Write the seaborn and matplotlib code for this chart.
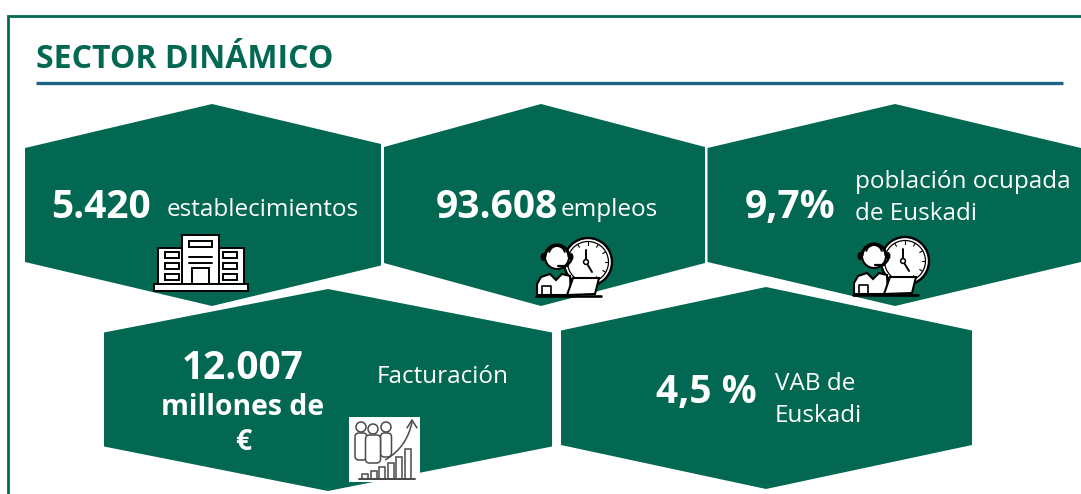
import matplotlib
matplotlib.use('Agg')
import matplotlib.pyplot as plt
from matplotlib.patches import Polygon, Rectangle, Circle, Wedge, Ellipse, PathPatch, FancyBboxPatch
from matplotlib.path import Path
import numpy as np
import seaborn as sns

GREEN = '#036851'
BLUE = '#1F6487'

title = 'SECTOR DINÁMICO'
big_numbers = ['5.420', '93.608', '9,7%', '12.007', '4,5 %']
unit_lines = ['millones de', '€']
captions = [['establecimientos'], ['empleos'], ['población ocupada', 'de Euskadi'], ['Facturación'], ['VAB de', 'Euskadi']]

sns.set_style('white')
plt.rcParams['font.family'] = ['Open Sans', 'DejaVu Sans']

fig = plt.figure(figsize=(10.81, 4.94), dpi=100)
ax = fig.add_axes([0, 0, 1, 1])
ax.set_xlim(0, 1081)
ax.set_ylim(494, 0)
ax.axis('off')

# marco y titulo
ax.plot([8, 8, 1081], [494, 16.5, 16.5], color=GREEN, lw=2, solid_joinstyle='miter', solid_capstyle='butt')
ax.plot([36, 1063], [83.3, 83.3], color=BLUE, lw=2.4, solid_capstyle='butt')
ax.text(36, 68, title, color=GREEN, fontsize=23, fontweight='bold', va='baseline', ha='left')


def hexagon(left, right, apex, top, shoulder_l, shoulder_r, low_l, low_r, bottom):
    pts = [(left, shoulder_l), (apex, top), (right, shoulder_r),
           (right, low_r), (apex, bottom), (left, low_l)]
    ax.add_patch(Polygon(pts, closed=True, fc=GREEN, ec='none', zorder=1))


hexagon(25, 381, 212, 104, 148, 144, 262, 265.5, 306)
hexagon(384, 705, 541, 104, 147, 147, 263, 263, 306)
hexagon(707.5, 1081, 895, 104, 148, 148, 262, 262, 306)
hexagon(104, 552, 328, 289, 332.5, 332.5, 446.5, 446.5, 491)
hexagon(561, 972, 766, 287, 330.5, 330.5, 445, 445, 489)

# textos
num_pos = [(101, 218), (496.5, 218), (790, 218), (243, 379), (706, 403)]
for (x, y), s in zip(num_pos, big_numbers):
    ax.text(x, y, s, color='white', fontsize=28, fontweight='bold', ha='center', va='baseline', zorder=3)
ax.text(243, 415, unit_lines[0], color='white', fontsize=20.4, fontweight='bold', ha='center', va='baseline', zorder=3)
ax.text(243, 450, unit_lines[1], color='white', fontsize=20.4, fontweight='bold', ha='center', va='baseline', zorder=3)

cap_x = [167, 561, 855, 377, 775]
cap_y = [[216], [216], [188, 220], [383], [390, 421.5]]
for x, ys, lines in zip(cap_x, cap_y, captions):
    for y, s in zip(ys, lines):
        ax.text(x, y, s, color='white', fontsize=17.5, ha='left', va='baseline', zorder=3)


def building(x0, y0):
    # edificio, origen arriba izquierda del bloque central
    k = dict(fc='white', ec='black', lw=1.4, zorder=4)
    ax.add_patch(Rectangle((x0 - 24, y0 + 13), 86, 36, **k))
    ax.add_patch(Rectangle((x0, y0), 37, 49, **k))
    ax.add_patch(Rectangle((x0 - 28, y0 + 49), 94, 7, **k))
    ax.add_patch(Rectangle((x0 + 7, y0 + 6), 23, 6, **k))
    ax.plot([x0 + 7, x0 + 30], [y0 + 22, y0 + 22], color='black', lw=1.4, zorder=5)
    ax.plot([x0 + 7, x0 + 30], [y0 + 28, y0 + 28], color='black', lw=1.4, zorder=5)
    ax.add_patch(Rectangle((x0 + 10, y0 + 33), 17, 16, **k))
    for dy in (17, 28, 39):
        ax.add_patch(Rectangle((x0 - 17, y0 + dy), 14, 6, **k))
        ax.add_patch(Rectangle((x0 + 41, y0 + dy), 14, 6, **k))
    for dx in (16, 19, 22):
        ax.plot([x0 + dx, x0 + dx], [y0 - 1, y0 - 0.2], color='black', lw=0.8, zorder=5)


def agent(cx, cy):
    # reloj y persona con portatil; cx, cy = centro de las agujas
    ax.add_patch(Circle((cx + 2, cy), 24, fc='white', ec='black', lw=1.7, zorder=4))
    ax.add_patch(Circle((cx + 2, cy), 20.5, fc='white', ec='black', lw=0.9, zorder=4))
    ax.plot([cx, cx, cx + 6], [cy - 12, cy, cy + 10], color='black', lw=1.4, zorder=5)
    ax.add_patch(Circle((cx, cy), 2.4, fc='white', ec='black', lw=1.1, zorder=5))
    for a in np.deg2rad([30, 60, 90, 120, 150, 0, -30]):
        ax.plot([cx + 2 + 17 * np.sin(a), cx + 2 + 20 * np.sin(a)],
                [cy - 17 * np.cos(a), cy - 20 * np.cos(a)], color='black', lw=0.8, zorder=5)
    # cuerpo
    body = [(cx - 49, cy + 33), (cx - 49, cy + 22), (cx - 45, cy + 15), (cx - 36, cy + 12),
            (cx - 30, cy + 18), (cx - 24, cy + 12), (cx - 16, cy + 14), (cx - 15, cy + 33)]
    ax.add_patch(Polygon(body, closed=True, fc='white', ec='black', lw=1.5, zorder=5))
    ax.plot([cx - 44, cx - 44, cx - 35, cx - 35], [cy + 33, cy + 24, cy + 24, cy + 33], color='black', lw=1.2, zorder=6)
    # cabeza y cascos
    ax.add_patch(Circle((cx - 29, cy - 5), 12, fc='white', ec='black', lw=1.5, zorder=6))
    ax.add_patch(Wedge((cx - 29, cy - 5), 13.5, 180, 360, width=3, fc='black', ec='none', zorder=6))
    ax.add_patch(Wedge((cx - 29, cy - 8), 9, 190, 350, width=2, fc='black', ec='none', zorder=7))
    ax.add_patch(Ellipse((cx - 43, cy - 5), 5, 8, fc='black', ec='none', zorder=7))
    ax.add_patch(Ellipse((cx - 15, cy - 5), 5, 8, fc='black', ec='none', zorder=7))
    ax.plot([cx - 15, cx - 19, cx - 28], [cy - 1, cy + 4, cy + 4], color='black', lw=1.6, zorder=7)
    # portatil
    ax.add_patch(Polygon([(cx - 13, cy + 16), (cx + 13, cy + 16), (cx + 9, cy + 32), (cx - 19, cy + 33)],
                         closed=True, fc='white', ec='black', lw=1.5, zorder=6))
    ax.plot([cx - 50, cx + 15], [cy + 33.5, cy + 33.5], color='black', lw=1.9, zorder=7)


def person(hx, hy, w, h):
    c = '#4a4a4a'
    ax.add_patch(FancyBboxPatch((hx - w / 2, hy + 6), w, h, boxstyle='round,pad=0,rounding_size=4',
                                fc='white', ec=c, lw=1.1, zorder=5))
    ax.add_patch(Circle((hx, hy), 5, fc='white', ec=c, lw=1.1, zorder=6))


def growth(x0, y0):
    # personas y barras de crecimiento, fondo blanco
    ax.add_patch(Rectangle((x0, y0), 71, 65, fc='white', ec='none', zorder=4))
    c = '#4a4a4a'
    person(x0 + 12, y0 + 10, 12, 27)
    person(x0 + 37, y0 + 10, 11, 24)
    person(x0 + 24, y0 + 12, 15, 28)
    arrow = Path([(x0 + 36, y0 + 43), (x0 + 52, y0 + 34), (x0 + 60, y0 + 20), (x0 + 63, y0 + 5)],
                 [Path.MOVETO, Path.CURVE4, Path.CURVE4, Path.CURVE4])
    ax.add_patch(PathPatch(arrow, fc='none', ec=c, lw=1.1, zorder=5))
    ax.plot([x0 + 58, x0 + 63, x0 + 68], [y0 + 11, y0 + 3, y0 + 11], color=c, lw=1.1, zorder=5)
    for i, h in enumerate((5, 8, 12, 16, 22, 30)):
        ax.add_patch(Rectangle((x0 + 13 + i * 8.6, y0 + 62 - h), 6, h, fc='white', ec=c, lw=1.1, zorder=5))
    ax.plot([x0 + 10, x0 + 66], [y0 + 62, y0 + 62], color=c, lw=1.4, zorder=6)


building(182, 235)
agent(586, 262)
agent(903, 261)
growth(349, 417)

fig.savefig('out.png', dpi=100)
